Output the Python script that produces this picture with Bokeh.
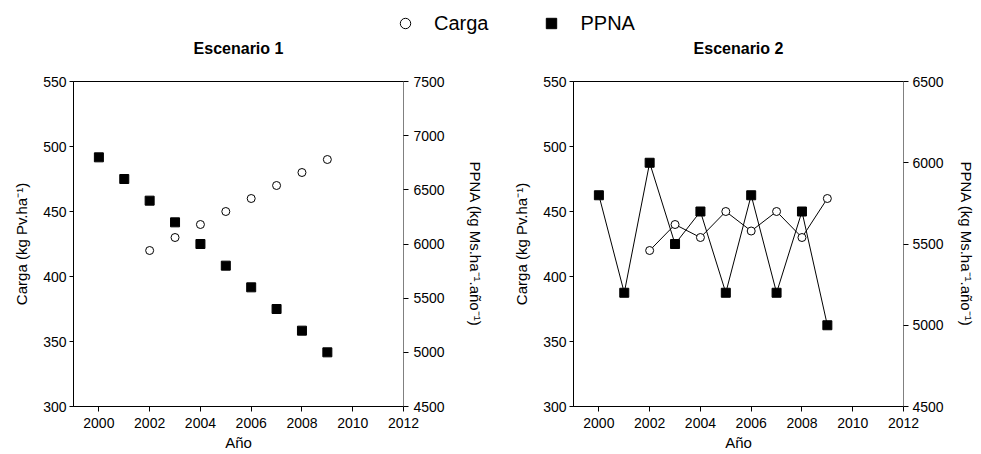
from bokeh.plotting import figure
from bokeh.models import Range1d, LinearAxis, FixedTicker, Legend, LegendItem, Label
from bokeh.layouts import column, row
from bokeh.embed import file_html
from bokeh.resources import INLINE

# ---- data ----
years = [2000, 2001, 2002, 2003, 2004, 2005, 2006, 2007, 2008, 2009]
carga_years = [2002, 2003, 2004, 2005, 2006, 2007, 2008, 2009]
carga_e1 = [420, 430, 440, 450, 460, 470, 480, 490]
ppna_e1 = [6800, 6600, 6400, 6200, 6000, 5800, 5600, 5400, 5200, 5000]
carga_e2 = [420, 440, 430, 450, 435, 450, 430, 460]
ppna_e2 = [5800, 5200, 6000, 5500, 5700, 5200, 5800, 5200, 5700, 5000]

x_ticks = [2000, 2002, 2004, 2006, 2008, 2010, 2012]
carga_ticks = [300, 350, 400, 450, 500, 550]
ppna_ticks_e1 = [4500, 5000, 5500, 6000, 6500, 7000, 7500]
ppna_ticks_e2 = [4500, 5000, 5500, 6000, 6500]

titles = ["Escenario 1", "Escenario 2"]
x_label = "Año"
y_label = "Carga (kg Pv.ha⁻¹)"
y2_label = "PPNA (kg Ms.ha⁻¹.año⁻¹)"
legend_labels = ["Carga", "PPNA"]

FONT = "Liberation Sans"
TOP_H = 62


def style_axis(ax, tick_out=5):
    ax.axis_label_text_font = FONT
    ax.axis_label_text_font_size = "15px"
    ax.axis_label_text_font_style = "normal"
    ax.axis_label_text_color = "black"
    ax.major_label_text_font = FONT
    ax.major_label_text_font_size = "14px"
    ax.major_label_text_color = "black"
    ax.major_tick_in = 0
    ax.major_tick_out = tick_out
    ax.minor_tick_in = 0
    ax.minor_tick_out = 0
    ax.axis_line_color = "black"
    ax.major_tick_line_color = "black"


def make_panel(carga, ppna, ppna_range, ppna_ticks, lines, width, bl, br,
               y2_lab_standoff, y2_standoff):
    p = figure(width=width, height=454 - TOP_H, x_range=Range1d(1999, 2012),
               y_range=Range1d(300, 550), toolbar_location=None,
               output_backend="svg", min_border_left=bl, min_border_right=br,
               min_border_top=81 - TOP_H, min_border_bottom=48,
               x_axis_type=None, y_axis_type=None)
    p.xgrid.visible = False
    p.ygrid.visible = False
    p.outline_line_color = "black"
    p.outline_line_alpha = 1.0
    p.background_fill_color = "white"
    p.border_fill_color = "white"

    xax = LinearAxis(axis_label=x_label, ticker=FixedTicker(ticks=x_ticks))
    style_axis(xax, 5)
    xax.major_label_standoff = 6
    xax.axis_label_standoff = 3
    p.add_layout(xax, "below")

    yax = LinearAxis(axis_label=y_label, ticker=FixedTicker(ticks=carga_ticks))
    style_axis(yax, 4)
    yax.major_label_standoff = 3
    yax.axis_label_standoff = 10
    p.add_layout(yax, "left")

    p.extra_y_ranges = {"ppna": Range1d(*ppna_range)}
    y2 = LinearAxis(y_range_name="ppna", axis_label=y2_label,
                    ticker=FixedTicker(ticks=ppna_ticks))
    style_axis(y2, 5)
    y2.axis_line_color = "#808080"
    y2.major_label_standoff = y2_lab_standoff
    y2.axis_label_standoff = y2_standoff
    p.add_layout(y2, "right")

    if lines:
        p.line(years, ppna, y_range_name="ppna", line_color="black", line_width=1)
        p.line(carga_years, carga, line_color="black", line_width=1)
    p.scatter(years, ppna, y_range_name="ppna", marker="square", size=9,
              fill_color="black", line_color="black")
    p.scatter(carga_years, carga, marker="circle", size=8,
              fill_color="white", line_color="black", line_width=1)
    return p


p1 = make_panel(carga_e1, ppna_e1, (4500, 7500), ppna_ticks_e1, False, 490, 73, 87, 5, 19)
p2 = make_panel(carga_e2, ppna_e2, (4500, 6500), ppna_ticks_e2, True, 491, 83, 78, 4, 11)

# top strip: legend + panel titles
p0 = figure(width=981, height=TOP_H, x_range=Range1d(0, 1), y_range=Range1d(0, 1),
            toolbar_location=None, output_backend="svg", x_axis_type=None,
            y_axis_type=None, min_border=0)
p0.outline_line_color = None
p0.xgrid.visible = False
p0.ygrid.visible = False
r1 = p0.scatter(x=[-10], y=[-10], marker="circle", fill_color="white",
                line_color="black", line_width=1)
r2 = p0.scatter(x=[-10], y=[-10], marker="square", fill_color="black",
                line_color="black")
leg = Legend(items=[LegendItem(label=legend_labels[0], renderers=[r1]),
                    LegendItem(label=legend_labels[1], renderers=[r2])],
             orientation="horizontal", location=(392, TOP_H - 36), padding=0,
             margin=0, border_line_color=None, background_fill_alpha=0,
             glyph_width=26, glyph_height=26, label_standoff=16, spacing=50,
             label_text_font=FONT, label_text_font_size="20px",
             label_text_color="black")
p0.add_layout(leg, "center")

for t, cx in zip(titles, [238, 738]):
    p0.add_layout(Label(x=cx, y=TOP_H - 48, x_units="screen", y_units="screen",
                        text=t, text_font=FONT, text_font_size="16px",
                        text_font_style="bold", text_color="black",
                        text_align="center", text_baseline="middle"))

layout = column(p0, row(p1, p2, spacing=0), spacing=0)

open("out.html", "w").write(file_html(layout, INLINE))
